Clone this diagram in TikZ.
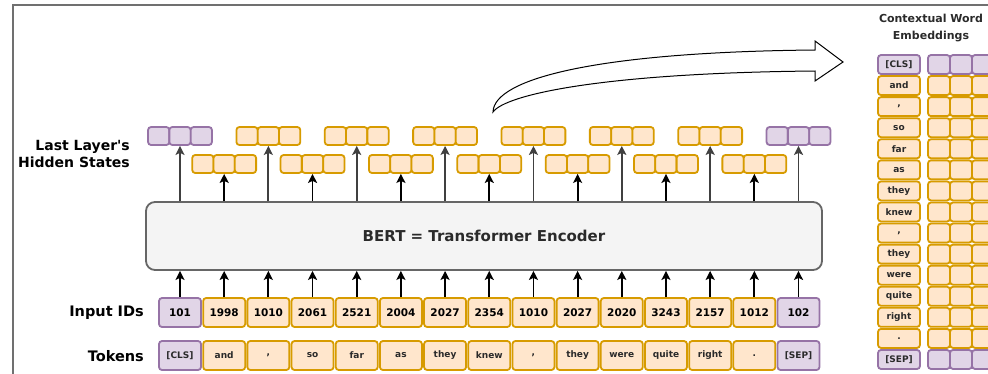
\documentclass[tikz,border=0pt]{standalone}
\usepackage{fontspec}
\setmainfont{DejaVu Sans}
\usetikzlibrary{arrows.meta}
\definecolor{orfill}{HTML}{FFE6CC}
\definecolor{ordraw}{HTML}{D79B00}
\definecolor{pufill}{HTML}{E1D5E7}
\definecolor{pudraw}{HTML}{9673A6}
\definecolor{framegray}{HTML}{707070}
\definecolor{bertfill}{HTML}{F4F4F4}
\definecolor{bertdraw}{HTML}{666666}
\definecolor{txt}{HTML}{2A2A2A}
\definecolor{longgray}{HTML}{404040}
\begin{document}
\begin{tikzpicture}[x=1pt,y=-1pt,
  orng/.style={draw=ordraw,fill=orfill},
  pu/.style={draw=pudraw,fill=pufill},
  basebox/.style={line width=1.8pt,rounded corners=3pt,inner sep=0pt},
  idbox/.style={basebox,minimum width=42pt,minimum height=29pt,font=\bfseries\fontsize{10.5}{12}\selectfont,text=black},
  tokbox/.style={basebox,minimum width=42pt,minimum height=29pt,font=\bfseries\fontsize{9}{10}\selectfont,text=txt},
  coltok/.style={basebox,minimum width=42pt,minimum height=19pt,font=\bfseries\fontsize{9}{10}\selectfont,text=txt},
  cell/.style={basebox,minimum width=21.3pt,minimum height=18pt},
  ecell/.style={basebox,minimum width=22pt,minimum height=19pt},
  tip/.style={-{Stealth[length=9pt,width=9pt,inset=2pt]}},
  inarrow/.style={tip,line width=1.8pt,black},
  shortarrow/.style={tip,line width=1.8pt,black},
  longarrow/.style={tip,line width=1.8pt,longgray},
  rowlabel/.style={anchor=east,inner sep=0pt,font=\bfseries\fontsize{14.5}{17}\selectfont,text=black},
  bertbox/.style={draw=bertdraw,fill=bertfill,line width=1.8pt,rounded corners=9pt,minimum width=676pt,minimum height=68pt,inner sep=0pt,font=\bfseries\fontsize{15}{18}\selectfont,text=txt},
]
\useasboundingbox (0,0) rectangle (988,373);
% frame
\draw[framegray,line width=2pt] (13,380) -- (13,5) -- (995,5);

% BERT box
\node[bertbox] (bert) at (484,236) {BERT = Transformer Encoder};

% row labels
\node[rowlabel] (lblids) at (144,313) {Input IDs};
\node[rowlabel] (lbltok) at (144,356) {Tokens};
\node[rowlabel,align=right,font=\bfseries\fontsize{14}{17}\selectfont] (lblhid) at (130,154) {Last Layer\textquotesingle s\\Hidden States};

% tokens, ids, hidden states
\foreach \k/\tok/\id/\c in {1/{[CLS]}/101/pu, 2/and/1998/orng, 3/{,}/1010/orng, 4/so/2061/orng, 5/far/2521/orng, 6/as/2004/orng, 7/they/2027/orng, 8/knew/2354/orng, 9/{,}/1010/orng, 10/they/2027/orng, 11/were/2020/orng, 12/quite/3243/orng, 13/right/2157/orng, 14/{.}/1012/orng, 15/{[SEP]}/102/pu}{
  \pgfmathsetmacro{\xx}{180+(\k-1)*44.18}
  \pgfmathsetmacro{\yc}{ifthenelse(mod(\k,2)==1,136,164)}
  \node[idbox,\c] (i\k) at (\xx,312.5) {\id};
  \node[tokbox,\c] (t\k) at (\xx,355.5) {\tok};
  \node[cell,\c] (h\k-a) at (\xx-21.3,\yc) {};
  \node[cell,\c] (h\k-b) at (\xx,\yc) {};
  \node[cell,\c] (h\k-c) at (\xx+21.3,\yc) {};
  \draw[inarrow] (i\k.north) -- (i\k.north |- bert.south);
  \ifodd\k
    \draw[longarrow] (bert.north -| h\k-b.south) -- (h\k-b.south);
  \else
    \draw[shortarrow] (bert.north -| h\k-b.south) -- (h\k-b.south);
  \fi
}

% big curved arrow
\coordinate (bigtail) at (493,112);
\coordinate (bighead) at (843,62);
\draw[black,line width=1pt,fill=white,line join=miter]
  (bigtail) .. controls (494,78) and (600,52) .. (815,50)
  -- (815,41) -- (bighead) -- (815,81) -- (815,71)
  .. controls (600,73) and (505,95) .. (bigtail) -- cycle;

% right panel
\node[align=center,font=\bfseries\fontsize{11}{17}\selectfont,text=txt] (cwe) at (931,28.5) {Contextual Word\\Embeddings};
\foreach \r/\tok/\c in {0/{[CLS]}/pu, 1/and/orng, 2/{,}/orng, 3/so/orng, 4/far/orng, 5/as/orng, 6/they/orng, 7/knew/orng, 8/{,}/orng, 9/they/orng, 10/were/orng, 11/quite/orng, 12/right/orng, 13/{.}/orng, 14/{[SEP]}/pu}{
  \pgfmathsetmacro{\yy}{64.5+\r*21.07}
  \node[coltok,\c] (c\r) at (899,\yy) {\tok};
  \node[ecell,\c] (e\r-a) at (939,\yy) {};
  \node[ecell,\c] (e\r-b) at (961,\yy) {};
  \node[ecell,\c] (e\r-c) at (983,\yy) {};
}
\end{tikzpicture}
\end{document}
